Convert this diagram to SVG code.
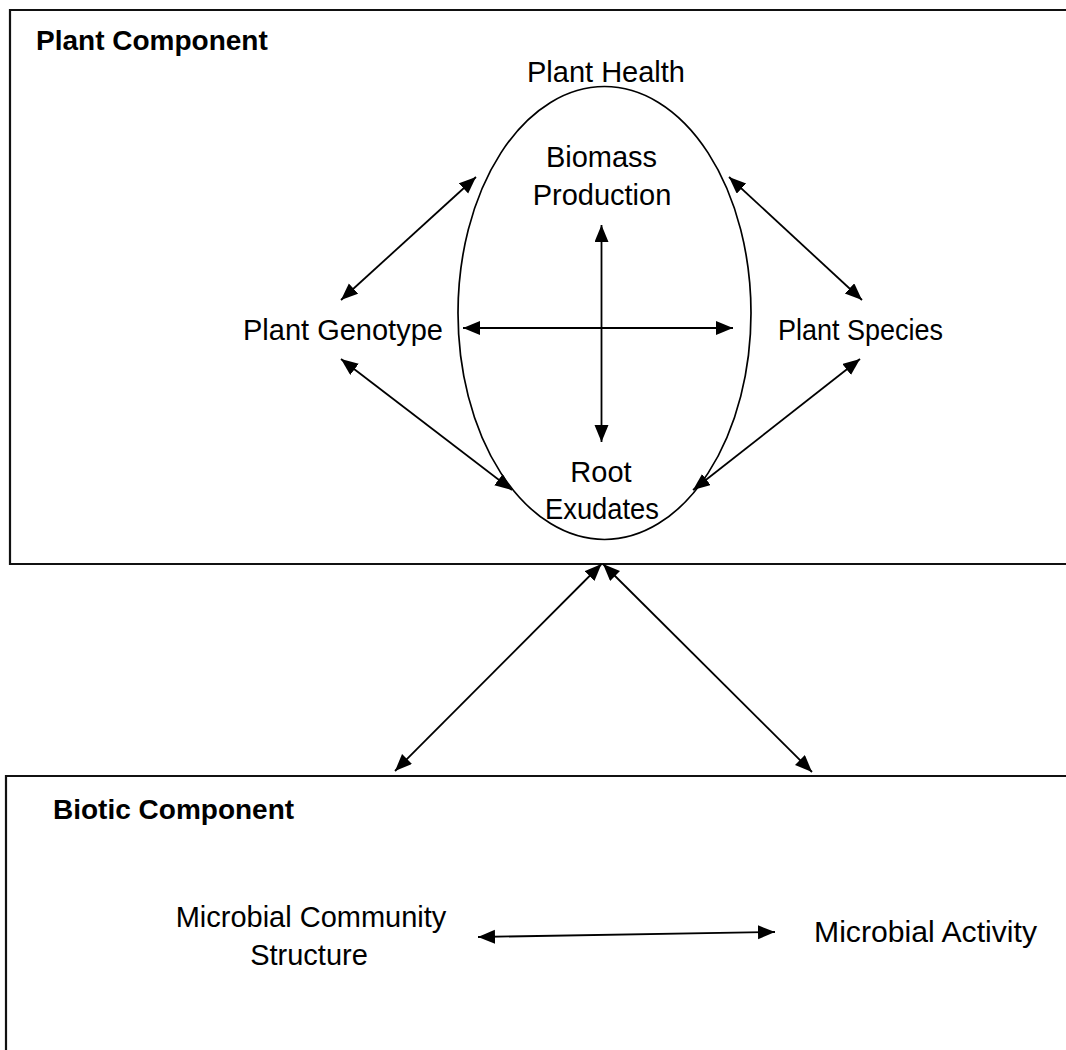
<svg xmlns="http://www.w3.org/2000/svg" width="1066" height="1050" viewBox="0 0 1066 1050">
  <style>
    .frame { fill: none; stroke: #111; stroke-width: 2.2; }
    .oval { fill: none; stroke: #000; stroke-width: 1.7; }
    .link { fill: none; stroke: #000; stroke-width: 1.8; marker-start: url(#head); marker-end: url(#head); }
    .label { font-family: "Liberation Sans", Arial, sans-serif; font-size: 29px; fill: #000; }
    .mid { text-anchor: middle; }
    .title { font-family: "Liberation Sans", Arial, sans-serif; font-size: 28px; font-weight: bold; fill: #000; }
  </style>
  <defs>
    <marker id="head" markerUnits="userSpaceOnUse" markerWidth="18" markerHeight="15" refX="17" refY="7" orient="auto-start-reverse" viewBox="0 0 18 15">
      <path d="M0,0 L17,7 L0,14 Z" fill="#000"/>
    </marker>
  </defs>
  <rect width="1066" height="1050" fill="#fff"/>

  <!-- Plant component panel (open on the right) -->
  <g id="plant-component">
    <path class="frame" d="M1070,10 H10 V564 H1070"/>
    <text class="title" x="36" y="50">Plant Component</text>
  </g>

  <!-- Biotic component panel (open on the right and bottom) -->
  <g id="biotic-component">
    <path class="frame" d="M1070,776 H6 V1056"/>
    <text class="title" x="53" y="819">Biotic Component</text>
  </g>

  <g id="plant-health">
    <ellipse class="oval" cx="604.5" cy="313" rx="146.5" ry="226.5"/>
    <text class="label mid" x="606" y="82">Plant Health</text>
  </g>

  <g id="biomass-production">
    <text class="label mid" x="601.5" y="167">Biomass</text>
    <text class="label mid" x="602" y="205">Production</text>
  </g>

  <g id="root-exudates">
    <text class="label mid" x="601" y="482">Root</text>
    <text class="label mid" x="602" y="519" textLength="114" lengthAdjust="spacingAndGlyphs">Exudates</text>
  </g>

  <g id="plant-genotype">
    <text class="label" x="243" y="340">Plant Genotype</text>
  </g>

  <g id="plant-species">
    <text class="label" x="778" y="340" textLength="165" lengthAdjust="spacingAndGlyphs">Plant Species</text>
  </g>

  <g id="microbial-community-structure">
    <text class="label mid" x="311" y="927">Microbial Community</text>
    <text class="label mid" x="309" y="965">Structure</text>
  </g>

  <g id="microbial-activity">
    <text class="label" x="814" y="942" textLength="223" lengthAdjust="spacingAndGlyphs">Microbial Activity</text>
  </g>

  <!-- Two-headed connectors -->
  <g id="connectors">
    <line class="link" x1="341" y1="300" x2="476" y2="177"/>
    <line class="link" x1="341" y1="359" x2="512" y2="490"/>
    <line class="link" x1="729" y1="177" x2="862" y2="300"/>
    <line class="link" x1="860" y1="359" x2="693" y2="490"/>
    <line class="link" x1="601.5" y1="225" x2="601.5" y2="442"/>
    <line class="link" x1="463" y1="328" x2="733" y2="328"/>
    <line class="link" x1="601.5" y1="564" x2="395" y2="771"/>
    <line class="link" x1="603" y1="564" x2="812" y2="772"/>
    <line class="link" x1="478" y1="937" x2="775" y2="932"/>
  </g>
</svg>
